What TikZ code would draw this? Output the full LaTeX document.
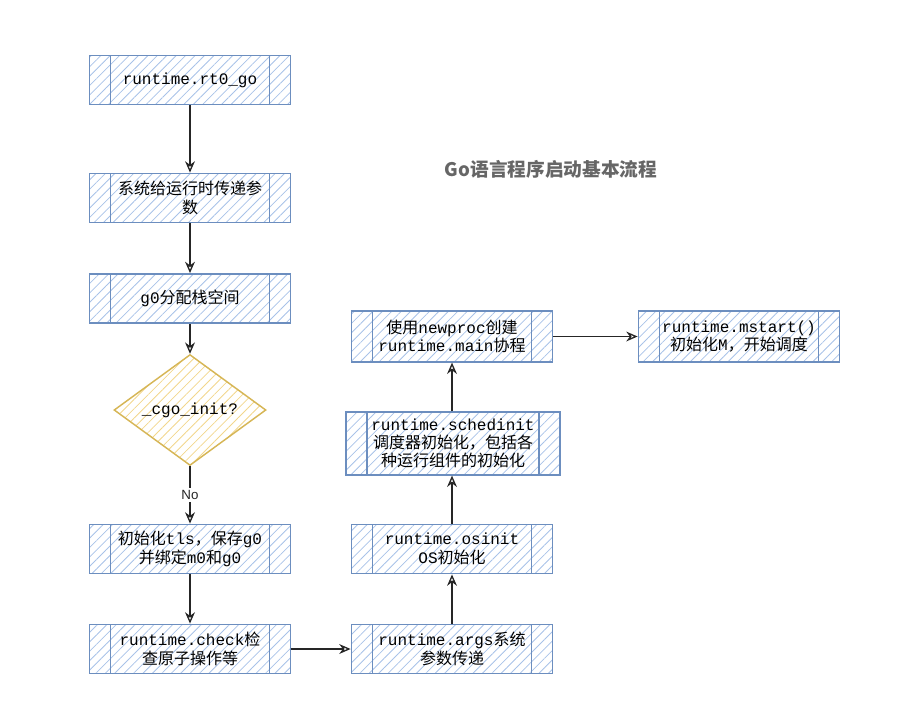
\documentclass[tikz,border=0pt]{standalone}
\usepackage{fontspec}
\setmonofont{Liberation Mono}
\setsansfont{Liberation Sans}
\newfontfamily\cjk{Noto Sans CJK SC}
\usetikzlibrary{arrows.meta, shapes.geometric, patterns.meta}

\definecolor{procblue}{HTML}{6C8EBF}
\definecolor{hatchblue}{HTML}{A8C2E8}
\definecolor{decyellow}{HTML}{D6B656}
\definecolor{hatchyellow}{HTML}{F2D68C}
\definecolor{titlegray}{HTML}{666666}

\newcommand{\zh}[1]{{\cjk #1}}

\begin{document}
\begin{tikzpicture}[
  x=0.75pt, y=-0.75pt,
  proc/.style={rectangle, draw=procblue, line width=1.1pt,
               pattern={Lines[angle=45, distance=5pt, line width=0.6pt]}, pattern color=hatchblue,
               minimum width=151pt, minimum height=37pt, inner sep=2pt, align=center,
               font=\ttfamily\fontsize{12}{14}\selectfont,
               path picture={\draw[procblue, line width=1.1pt]
                 ([xshift=15.75pt]path picture bounding box.north west) -- ([xshift=15.75pt]path picture bounding box.south west)
                 ([xshift=-15.75pt]path picture bounding box.north east) -- ([xshift=-15.75pt]path picture bounding box.south east);}},
  decision/.style={diamond, draw=decyellow, line width=1.1pt,
               pattern={Lines[angle=45, distance=5pt, line width=0.6pt]}, pattern color=hatchyellow,
               minimum width=114pt, minimum height=72pt, inner sep=0pt,
               font=\ttfamily\fontsize{12}{14}\selectfont},
  flowarrow/.style={-{Stealth[open, length=3mm, width=2.6mm]}, line width=1pt, black!85},
  nolabel/.style={fill=white, inner sep=1.5pt, font=\sffamily\fontsize{10}{11}\selectfont},
  heading/.style={font=\cjk\bfseries\fontsize{14}{16}\selectfont, text=titlegray}
]
\useasboundingbox (0,0) rectangle (923,722);

% Left column
\node[proc] (rt0) at (190,80) {runtime.rt0\_go};
\node[proc] (sysargs) at (190,198) {\zh{系统给运行时传递参}\\\zh{数}};
\node[proc] (stack) at (190,298.5) {g0\zh{分配栈空间}};
\node[decision] (cgo) at (190,410) {\_cgo\_init?};
\node[proc] (tls) at (190,549) {\zh{初始化}tls\zh{，保存}g0\\\zh{并绑定}m0\zh{和}g0};
\node[proc] (check) at (190,649) {runtime.check\zh{检}\\\zh{查原子操作等}};

% Middle column
\node[proc] (args) at (452,649) {runtime.args\zh{系统}\\\zh{参数传递}};
\node[proc] (osinit) at (452,549) {runtime.osinit\\OS\zh{初始化}};
\node[proc, minimum width=160.5pt, minimum height=47pt, font=\ttfamily\fontsize{12}{13.5}\selectfont] (sched) at (453,443.5)
  {runtime.schedinit\\\zh{调度器初始化，包括各}\\\zh{种运行组件的初始化}};
\node[proc, minimum height=38pt] (newproc) at (452,336.5) {\zh{使用}newproc\zh{创建}\\runtime.main\zh{协程}};

% Right
\node[proc, minimum height=38pt] (mstart) at (739,336.5) {runtime.mstart()\\\zh{初始化}M\zh{，开始调度}};

% Title
\node[heading] (title) at (551,169) {Go语言程序启动基本流程};

% Flow arrows
\draw[flowarrow] (rt0) -- (sysargs);
\draw[flowarrow] (sysargs) -- (stack);
\draw[flowarrow] (stack) -- (cgo);
\draw[flowarrow] (cgo) -- node[nolabel] {No} (tls);
\draw[flowarrow] (tls) -- (check);
\draw[flowarrow] (check) -- (args);
\draw[flowarrow] (args) -- (osinit);
\draw[flowarrow] (osinit) -- (osinit |- sched.south);
\draw[flowarrow] (newproc |- sched.north) -- (newproc);
\draw[flowarrow] (newproc) -- (mstart);

\end{tikzpicture}
\end{document}
